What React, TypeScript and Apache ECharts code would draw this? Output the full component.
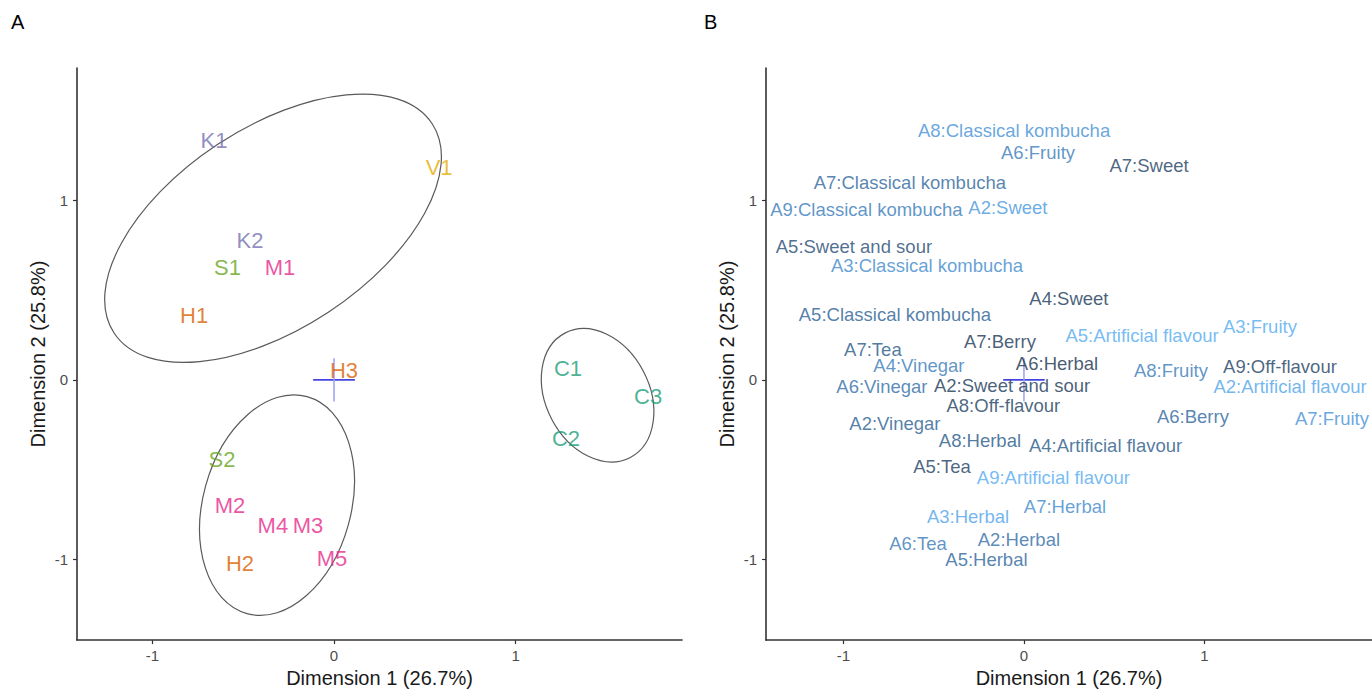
import React, { useEffect, useRef } from "react";
import * as echarts from "echarts";

// ---------- Panel A: individuals ----------
const sampleNames = ["K1", "V1", "K2", "S1", "M1", "H1", "H3", "C1", "C3", "C2", "S2", "M2", "M4", "M3", "M5", "H2"];
const sampleDim1 = [-0.661, 0.579, -0.463, -0.587, -0.298, -0.771, 0.055, 1.289, 1.73, 1.278, -0.617, -0.573, -0.337, -0.143, -0.011, -0.518];
const sampleDim2 = [1.335, 1.186, 0.776, 0.626, 0.626, 0.36, 0.05, 0.066, -0.094, -0.327, -0.443, -0.698, -0.814, -0.814, -0.997, -1.025];
const groupLetters = ["C", "H", "K", "M", "S", "V"];
const groupColors = ["#1B9E77", "#D95F02", "#7570B3", "#E7298A", "#66A61E", "#E6AB02"];

// ellipses: centre x, centre y, semi-major, semi-minor, angle (deg)
const ellipseCx = [-0.336, -0.314, 1.452];
const ellipseCy = [0.845, -0.698, -0.086];
const ellipseA = [1.049, 0.62, 0.387];
const ellipseB = [0.56, 0.412, 0.288];
const ellipseAngle = [33.4, 74.5, 117.8];

// ---------- Panel B: variable categories ----------
const varNames = [
  "A8:Classical kombucha", "A6:Fruity", "A7:Sweet", "A7:Classical kombucha", "A9:Classical kombucha",
  "A2:Sweet", "A5:Sweet and sour", "A3:Classical kombucha", "A4:Sweet", "A5:Classical kombucha",
  "A7:Berry", "A5:Artificial flavour", "A3:Fruity", "A7:Tea", "A6:Herbal",
  "A4:Vinegar", "A9:Off-flavour", "A8:Fruity", "A6:Vinegar", "A2:Sweet and sour",
  "A2:Artificial flavour", "A8:Off-flavour", "A6:Berry", "A7:Fruity", "A2:Vinegar",
  "A8:Herbal", "A4:Artificial flavour", "A5:Tea", "A9:Artificial flavour", "A7:Herbal",
  "A3:Herbal", "A2:Herbal", "A6:Tea", "A5:Herbal",
];
const varDim1 = [
  -0.055, 0.078, 0.693, -0.632, -0.873,
  -0.089, -0.942, -0.537, 0.249, -0.715,
  -0.133, 0.654, 1.307, -0.837, 0.183,
  -0.582, 1.418, 0.814, -0.787, -0.066,
  1.474, -0.114, 0.936, 1.706, -0.715,
  -0.244, 0.452, -0.454, 0.163, 0.227,
  -0.31, -0.028, -0.587, -0.208,
];
const varDim2 = [
  1.387, 1.269, 1.197, 1.102, 0.949,
  0.958, 0.745, 0.636, 0.454, 0.366,
  0.216, 0.249, 0.299, 0.172, 0.089,
  0.078, 0.072, 0.05, -0.039, -0.033,
  -0.039, -0.144, -0.205, -0.216, -0.244,
  -0.338, -0.366, -0.482, -0.543, -0.704,
  -0.759, -0.892, -0.914, -1.003,
];
// relative colour level (0 = dark navy, 1 = light blue)
const varLevel = [
  0.75, 0.6, 0.15, 0.45, 0.6,
  0.8, 0.25, 0.7, 0.1, 0.4,
  0.1, 0.95, 0.95, 0.35, 0.05,
  0.6, 0.15, 0.6, 0.5, 0.1,
  0.9, 0.15, 0.45, 0.75, 0.4,
  0.35, 0.35, 0.15, 0.95, 0.7,
  0.9, 0.5, 0.6, 0.45,
];
const gradientColors = ["#132B43", "#1F4A73", "#2F6CA6", "#4290D6", "#56B1F7"];

// axes
const tickValues = [-1, 0, 1];
const xRangeA = [-1.416, 1.917];
const xRangeB = [-1.429, 1.928];
const yRange = [-1.45, 1.738];
const crossHalf = [0.115, 0.12];

const FONT = "'Liberation Sans', Arial, sans-serif";

function axisBase(range: number[], gridIndex: number, name: string, isX: boolean) {
  return {
    type: "value",
    gridIndex,
    min: range[0],
    max: range[1],
    name,
    nameLocation: "middle",
    nameGap: isX ? 25 : 29,
    nameTextStyle: { fontFamily: FONT, fontSize: 20, color: "#1a1a1a" },
    splitLine: { show: false },
    axisLine: { show: true, onZero: false, lineStyle: { color: "#333", width: 1.6 } },
    axisTick: { show: true, length: 4, customValues: tickValues, lineStyle: { color: "#333", width: 1.2 } },
    axisLabel: {
      customValues: tickValues,
      fontFamily: FONT,
      fontSize: 15,
      color: "#4D4D4D",
      margin: isX ? 8 : 9,
    },
  };
}

function crossSeries(xIdx: number) {
  return [
    {
      type: "line",
      xAxisIndex: xIdx,
      yAxisIndex: xIdx,
      data: [[-crossHalf[0], 0], [crossHalf[0], 0]],
      symbol: "none",
      silent: true,
      lineStyle: { color: "#4444e0", width: 1.6 },
      z: 3,
    },
    {
      type: "line",
      xAxisIndex: xIdx,
      yAxisIndex: xIdx,
      data: [[0, -crossHalf[1]], [0, crossHalf[1]]],
      symbol: "none",
      silent: true,
      lineStyle: { color: "#9d9df5", width: 1.5 },
      z: 3,
    },
  ];
}

export default function App() {
  const ref = useRef<HTMLDivElement>(null);
  useEffect(() => {
    if (!ref.current) return;
    const chart = echarts.init(ref.current, null, { renderer: "svg" });

    const sampleData = sampleNames.map((n, i) => ({
      name: n,
      value: [sampleDim1[i], sampleDim2[i]],
      label: { color: groupColors[groupLetters.indexOf(n[0])] },
    }));
    const varData = varNames.map((n, i) => ({
      name: n,
      value: [varDim1[i], varDim2[i]],
      label: { color: echarts.color.lerp(varLevel[i], gradientColors) },
    }));
    const ellipseData = ellipseCx.map((cx, i) => [cx, ellipseCy[i], ellipseA[i], ellipseB[i], ellipseAngle[i]]);

    chart.setOption({
      animation: false,
      textStyle: { fontFamily: FONT },
      grid: [
        { left: 77, top: 68, width: 605, height: 576 },
        { left: 766, top: 68, width: 606, height: 576 },
      ],
      xAxis: [axisBase(xRangeA, 0, "Dimension 1 (26.7%)", true), axisBase(xRangeB, 1, "Dimension 1 (26.7%)", true)],
      yAxis: [axisBase(yRange, 0, "Dimension 2 (25.8%)", false), axisBase(yRange, 1, "Dimension 2 (25.8%)", false)],
      graphic: [
        { type: "text", left: 11, top: 12, style: { text: "A", fontFamily: FONT, fontSize: 20, fill: "#000" } },
        { type: "text", left: 704, top: 12, style: { text: "B", fontFamily: FONT, fontSize: 20, fill: "#000" } },
      ],
      series: [
        {
          type: "custom",
          xAxisIndex: 0,
          yAxisIndex: 0,
          silent: true,
          data: ellipseData,
          renderItem: (params: any, api: any) => {
            const c = api.coord([api.value(0), api.value(1)]);
            const s = api.size([api.value(2), api.value(3)]);
            return {
              type: "ellipse",
              x: c[0],
              y: c[1],
              rotation: (api.value(4) * Math.PI) / 180,
              shape: { cx: 0, cy: 0, rx: s[0], ry: s[1] },
              style: { fill: "none", stroke: "#5a5a5a", lineWidth: 1.2 },
            };
          },
          z: 1,
        },
        ...crossSeries(0),
        {
          type: "scatter",
          xAxisIndex: 0,
          yAxisIndex: 0,
          symbolSize: 0,
          silent: true,
          data: sampleData,
          label: {
            show: true,
            position: "inside",
            formatter: "{b}",
            fontFamily: FONT,
            fontSize: 22,
          },
          z: 5,
        },
        ...crossSeries(1),
        {
          type: "scatter",
          xAxisIndex: 1,
          yAxisIndex: 1,
          symbolSize: 0,
          silent: true,
          data: varData,
          label: {
            show: true,
            position: "inside",
            formatter: "{b}",
            fontFamily: FONT,
            fontSize: 18.5,
            lineHeight: 16,
          },
          labelLayout: { hideOverlap: false },
          z: 5,
        },
      ],
    });
    return () => chart.dispose();
  }, []);
  return <div ref={ref} style={{ position: "fixed", left: 0, top: 0, width: 1372, height: 693, background: "#fff" }} />;
}
